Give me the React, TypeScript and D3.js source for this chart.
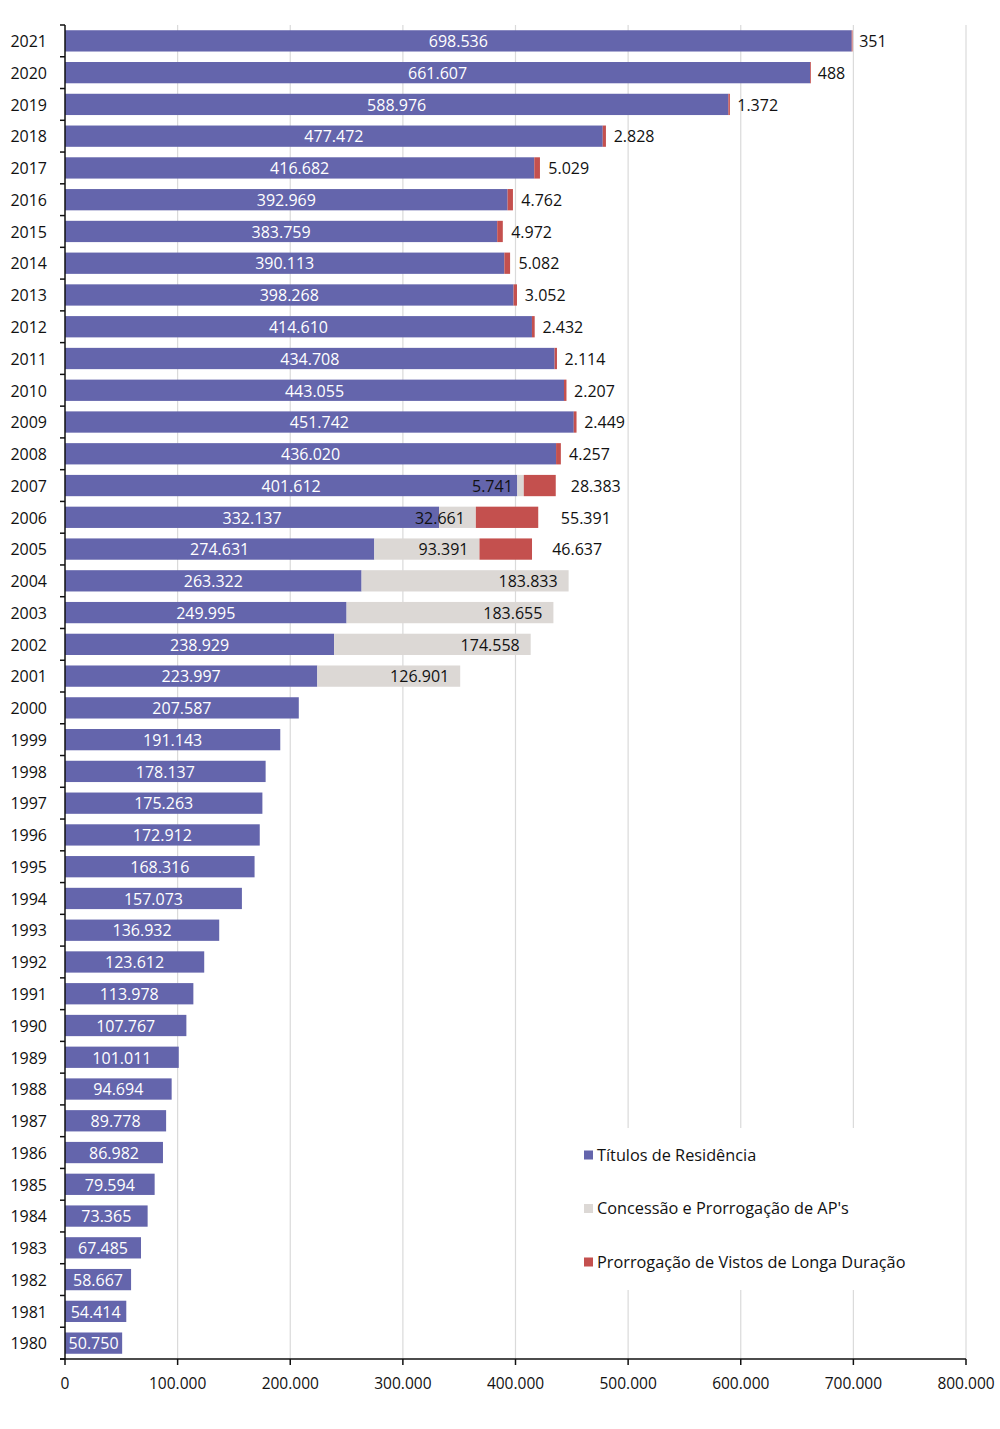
import React from "react";
import * as d3 from "d3";

const years = [
  1980, 1981, 1982, 1983, 1984, 1985, 1986, 1987, 1988, 1989, 1990, 1991, 1992, 1993,
  1994, 1995, 1996, 1997, 1998, 1999, 2000, 2001, 2002, 2003, 2004, 2005, 2006, 2007,
  2008, 2009, 2010, 2011, 2012, 2013, 2014, 2015, 2016, 2017, 2018, 2019, 2020, 2021,
];

const titulos = [
  50750, 54414, 58667, 67485, 73365, 79594, 86982, 89778, 94694, 101011, 107767, 113978,
  123612, 136932, 157073, 168316, 172912, 175263, 178137, 191143, 207587, 223997, 238929,
  249995, 263322, 274631, 332137, 401612, 436020, 451742, 443055, 434708, 414610, 398268,
  390113, 383759, 392969, 416682, 477472, 588976, 661607, 698536,
];

const concessao = [
  0, 0, 0, 0, 0, 0, 0, 0, 0, 0, 0, 0, 0, 0, 0, 0, 0, 0, 0, 0, 0, 126901, 174558, 183655,
  183833, 93391, 32661, 5741, 0, 0, 0, 0, 0, 0, 0, 0, 0, 0, 0, 0, 0, 0,
];

const prorrogacao = [
  0, 0, 0, 0, 0, 0, 0, 0, 0, 0, 0, 0, 0, 0, 0, 0, 0, 0, 0, 0, 0, 0, 0, 0, 0, 46637, 55391,
  28383, 4257, 2449, 2207, 2114, 2432, 3052, 5082, 4972, 4762, 5029, 2828, 1372, 488, 351,
];

const seriesNames = [
  "Títulos de Residência",
  "Concessão e Prorrogação de AP's",
  "Prorrogação de Vistos de Longa Duração",
];

const xTicks = [0, 100000, 200000, 300000, 400000, 500000, 600000, 700000, 800000];

const COLORS = ["#6465AC", "#DCD8D5", "#C4504E"];
const FONT = "'Open Sans', sans-serif";

const locale = d3.formatLocale({
  decimal: ",",
  thousands: ".",
  grouping: [3],
  currency: ["", ""],
});
const fmt = locale.format(",d");

export default function App() {
  const W = 1000;
  const H = 1429;
  const left = 65;
  const right = 966;
  const top = 25;
  const bottom = 1359;

  const x = d3.scaleLinear().domain([0, 800000]).range([left, right]);
  const yDomain = years.map(String).reverse();
  const y = d3
    .scaleBand()
    .domain(yDomain)
    .range([top, bottom])
    .paddingInner(0.33)
    .paddingOuter(0.165);
  const step = y.step();

  const rows = years.map((yr, i) => ({
    year: String(yr),
    t: titulos[i],
    c: concessao[i],
    p: prorrogacao[i],
  }));

  const legendX = 575;
  const legendY = 1128;
  const fs = 16;

  return (
    <svg
      width={W}
      height={H}
      style={{ position: "absolute", left: 0, top: 0, background: "#fff" }}
      fontFamily={FONT}
    >
      <rect x={0} y={0} width={W} height={H} fill="#fff" />
      {/* gridlines */}
      {xTicks.slice(1).map((t) => (
        <line
          key={"g" + t}
          x1={x(t)}
          x2={x(t)}
          y1={top}
          y2={bottom}
          stroke="#DADADA"
          strokeWidth={1.2}
        />
      ))}
      {/* legend background */}
      <rect x={legendX} y={legendY} width={340} height={162} fill="#fff" />

      {/* bars */}
      {rows.map((r) => {
        const yy = y(r.year)!;
        const h = y.bandwidth();
        const x0 = x(0);
        const x1 = x(r.t);
        const x2 = x(r.t + r.c);
        const x3 = x(r.t + r.c + r.p);
        const cy = yy + h / 2 + 0.5;
        return (
          <g key={r.year}>
            <rect x={x0} y={yy} width={x1 - x0} height={h} fill={COLORS[0]} />
            {r.c > 0 && (
              <rect x={x1} y={yy} width={x2 - x1} height={h} fill={COLORS[1]} />
            )}
            {r.p > 0 && (
              <rect x={x2} y={yy} width={Math.max(x3 - x2, 0.8)} height={h} fill={COLORS[2]} />
            )}
            <text
              x={(x0 + x1) / 2}
              y={cy}
              dy="0.36em"
              textAnchor="middle"
              fill="#fff"
              fontSize={fs}
            >
              {fmt(r.t)}
            </text>
            {r.c > 0 && (
              <text x={x2 - 11} y={cy} dy="0.36em" textAnchor="end" fill="#111" fontSize={fs}>
                {fmt(r.c)}
              </text>
            )}
            {r.p > 0 && (
              <text
                x={x3 + 7 + 0.25 * (x3 - x2)}
                y={cy}
                dy="0.36em"
                textAnchor="start"
                fill="#111"
                fontSize={fs}
              >
                {fmt(r.p)}
              </text>
            )}
            <text
              x={47}
              y={cy}
              dy="0.36em"
              textAnchor="end"
              fill="#111"
              fontSize={fs}
            >
              {r.year}
            </text>
          </g>
        );
      })}

      {/* left axis */}
      <line x1={left} x2={left} y1={top} y2={bottom} stroke="#111" strokeWidth={1.5} />
      {d3.range(yDomain.length + 1).map((i) => (
        <line
          key={"lt" + i}
          x1={left - 5}
          x2={left}
          y1={top + i * step}
          y2={top + i * step}
          stroke="#111"
          strokeWidth={1.5}
        />
      ))}

      {/* bottom axis */}
      <line x1={left - 5} x2={right} y1={bottom} y2={bottom} stroke="#111" strokeWidth={1.5} />
      {xTicks.map((t) => (
        <g key={"bt" + t}>
          <line x1={x(t)} x2={x(t)} y1={bottom} y2={bottom + 6} stroke="#111" strokeWidth={1.5} />
          <text
            x={x(t)}
            y={bottom + 24}
            dy="0.36em"
            textAnchor="middle"
            fill="#111"
            fontSize={15.5}
          >
            {fmt(t)}
          </text>
        </g>
      ))}

      {/* legend */}
      {seriesNames.map((name, i) => {
        const ly = 1155 + i * 53.5;
        return (
          <g key={name}>
            <rect x={584} y={ly - 4.5} width={9} height={9} fill={COLORS[i]} />
            <text x={597} y={ly} dy="0.36em" fill="#111" fontSize={16.3}>
              {name}
            </text>
          </g>
        );
      })}
    </svg>
  );
}
